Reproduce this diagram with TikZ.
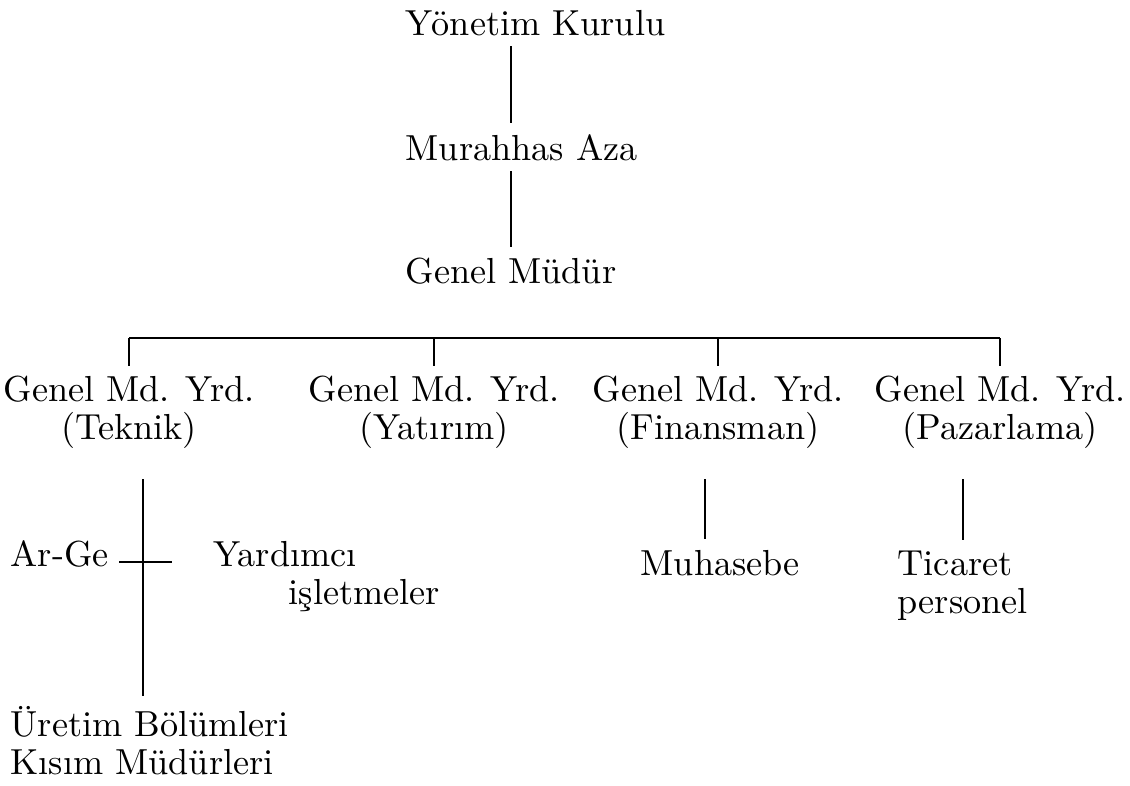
\documentclass[tikz,border=0pt]{standalone}
\usepackage{fontspec}
\begin{document}
\begin{tikzpicture}[
            x=1cm, y=1cm,
            unit/.style={font=\fontsize{10.3pt}{10.8pt}\selectfont, inner sep=1mm},
            deputy/.style={unit, align=center, anchor=north},
            link/.style={line width=0.5pt},
            bar/.style={line width=0.7pt}
        ]
        \useasboundingbox (0,0) rectangle (11.3,-7.85);

        % üst yönetim
        \node[unit, anchor=base west] (yk) at (3.95,-0.35) {Yönetim Kurulu};
        \node[unit, anchor=base west] (ma) at (3.95,-1.60) {Murahhas Aza};
        \node[unit, anchor=base west] (gm) at (3.95,-2.83) {Genel Müdür};
        \coordinate (spine) at (5.11,-1);
        \draw[link] (yk.south -| spine) -- (ma.north -| spine);
        \draw[link] (ma.south -| spine) -- (gm.north -| spine);

        % genel müdür yardımcıları
        \node[deputy] (tek) at (1.29,-3.655) {Genel Md. Yrd.\\(Teknik)};
        \node[deputy] (yat) at (4.34,-3.655) {Genel Md. Yrd.\\(Yatırım)};
        \node[deputy] (fin) at (7.18,-3.655) {Genel Md. Yrd.\\(Finansman)};
        \node[deputy] (paz) at (10.00,-3.655) {Genel Md. Yrd.\\(Pazarlama)};
        \coordinate (rail) at (0,-3.38);
        \draw[bar] (tek.north |- rail) -- (paz.north |- rail);
        \foreach \n in {tek, yat, fin, paz} {
                \draw[link] (\n.north |- rail) -- (\n.north);
            }

        % teknik
        \node[unit, anchor=base west] (arge) at (0.00,-5.66) {Ar-Ge};
        \node[unit, anchor=north west, align=left] (yard) at (2.03,-5.31)
            {Yardımcı\\\hspace*{7.5mm}işletmeler};
        \node[unit, anchor=north west, align=left] (ure) at (0.00,-6.96)
            {Üretim Bölümleri\\Kısım Müdürleri};
        \coordinate (cross) at (1.43,-5.62);
        \draw[link, shorten <=2mm] (tek.south -| cross) -- (ure.north -| cross);
        \draw[link] (arge.east |- cross) -- ([xshift=2.9mm]cross);

        % finansman ve pazarlama
        \node[unit, anchor=base west] (muh) at (6.30,-5.75) {Muhasebe};
        \node[unit, anchor=north west, align=left] (tic) at (8.87,-5.40)
            {Ticaret\\personel};
        \coordinate (fdrop) at (7.05,-5);
        \draw[link, shorten <=2mm] (fin.south -| fdrop) -- (muh.north -| fdrop);
        \draw[link, shorten <=2mm] (paz.south -| tic.north) -- (tic.north);
    \end{tikzpicture}
\end{document}
